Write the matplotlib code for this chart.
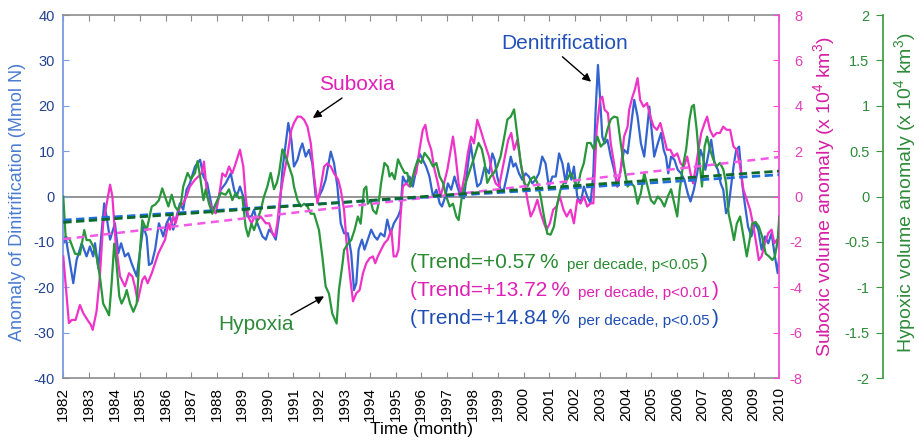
import matplotlib.pyplot as plt
from matplotlib.ticker import FuncFormatter

plt.rcParams['font.family'] = ['Liberation Sans', 'DejaVu Sans']
plt.rcParams['axes.unicode_minus'] = False
plt.rcParams['mathtext.fontset'] = 'custom'
plt.rcParams['mathtext.rm'] = 'Liberation Sans'
plt.rcParams['mathtext.it'] = 'Liberation Sans:italic'

# Denitrification anomaly (Mmol N)
deni_years = [
    1982.00, 1982.09, 1982.39, 1982.52, 1982.72, 1982.91, 1983.04, 1983.17, 1983.24, 1983.37,
    1983.60, 1983.69, 1983.83, 1984.02, 1984.15, 1984.26, 1984.41, 1984.54, 1984.67, 1984.87,
    1985.13, 1985.26, 1985.35, 1985.46, 1985.59, 1985.74, 1985.91, 1986.04, 1986.17, 1986.30,
    1986.56, 1986.69, 1986.82, 1986.95, 1987.15, 1987.35, 1987.48, 1987.63, 1987.83, 1988.00,
    1988.16, 1988.35, 1988.55, 1988.68, 1988.78, 1988.91, 1989.04, 1989.20, 1989.36, 1989.46,
    1989.59, 1989.79, 1989.92, 1990.05, 1990.18, 1990.31, 1990.44, 1990.57, 1990.70, 1990.80,
    1990.92, 1991.02, 1991.16, 1991.26, 1991.35, 1991.48, 1991.61, 1991.74, 1991.87, 1992.00,
    1992.13, 1992.26, 1992.46, 1992.59, 1992.72, 1992.85, 1992.98, 1993.13, 1993.26, 1993.37,
    1993.46, 1993.55, 1993.68, 1993.78, 1993.91, 1994.04, 1994.17, 1994.28, 1994.41, 1994.56,
    1994.67, 1994.80, 1994.93, 1995.09, 1995.19, 1995.28, 1995.41, 1995.54, 1995.67, 1995.80,
    1995.93, 1996.06, 1996.19, 1996.32, 1996.46, 1996.59, 1996.72, 1996.81, 1996.94, 1997.04,
    1997.17, 1997.30, 1997.41, 1997.54, 1997.67, 1997.80, 1997.93, 1998.06, 1998.19, 1998.32,
    1998.48, 1998.65, 1998.78, 1998.87, 1998.97, 1999.10, 1999.23, 1999.37, 1999.50, 1999.60,
    1999.69, 1999.82, 1999.95, 2000.08, 2000.21, 2000.34, 2000.47, 2000.60, 2000.73, 2000.86,
    2000.99, 2001.13, 2001.26, 2001.39, 2001.52, 2001.65, 2001.75, 2001.87, 2001.97, 2002.10,
    2002.23, 2002.36, 2002.49, 2002.62, 2002.73, 2002.82, 2002.91, 2002.99, 2003.08, 2003.17,
    2003.28, 2003.41, 2003.54, 2003.67, 2003.80, 2003.93, 2004.07, 2004.20, 2004.33, 2004.46,
    2004.59, 2004.72, 2004.83, 2004.92, 2005.01, 2005.11, 2005.25, 2005.38, 2005.48, 2005.57,
    2005.66, 2005.77, 2005.90, 2006.03, 2006.16, 2006.29, 2006.42, 2006.53, 2006.66, 2006.79,
    2006.92, 2007.01, 2007.11, 2007.21, 2007.34, 2007.47, 2007.60, 2007.71, 2007.81, 2007.92,
    2008.02, 2008.13, 2008.23, 2008.32, 2008.43, 2008.55, 2008.65, 2008.78, 2008.91, 2009.05,
    2009.18, 2009.31, 2009.44, 2009.57, 2009.70, 2009.83, 2009.94, 2010.00,
]
deni_values = [
    -10.3, -8.8, -19.1, -14.0, -10.3, -13.2, -11.0, -13.2, -10.3, -15.8,
    -1.5, -4.4, -9.5, -5.9, -12.5, -10.3, -13.2, -12.5, -14.7, -17.6,
    -6.6, -8.8, -15.1, -14.7, -11.7, -5.9, -8.8, -5.9, -4.4, -7.3,
    -1.5, -2.9, 1.5, 2.9, 6.6, 8.1, 4.4, 2.9, -2.9, -1.5,
    1.5, 2.9, 5.1, 1.5, 0.0, 2.2, 0.0, -4.4, -4.4, -2.9,
    -5.9, -8.8, -9.5, -7.3, -8.1, -9.5, -4.4, 5.9, 11.7, 16.2,
    12.5, 6.6, 8.1, 10.3, 11.7, 8.8, 10.3, 7.3, 0.0, 0.0,
    1.5, 3.7, 9.9, 7.3, 2.2, -5.9, -8.1, -8.1, -12.5, -20.6,
    -19.1, -11.7, -9.5, -11.7, -9.5, -7.3, -8.8, -9.5, -8.1, -8.8,
    -5.1, -8.1, -5.9, -4.4, -2.9, 4.4, 2.9, 4.4, 2.2, 5.9,
    9.5, 8.1, 6.6, 4.4, 0.0, 1.5, -1.5, -2.2, 0.0, 2.9,
    1.5, 4.4, 2.2, 0.0, -0.4, 5.9, 11.7, 6.6, 2.2, 2.9,
    6.6, 5.1, 9.5, 8.1, 4.4, 1.5, 1.5, 5.1, 8.8, 6.6,
    7.3, 5.1, 3.7, 5.1, 4.4, 2.9, 3.7, 5.1, 8.8, 7.3,
    2.2, 4.4, 4.4, 9.5, 7.3, 2.9, 7.3, 3.7, 6.6, 0.0,
    -1.5, 2.2, 0.0, -1.5, 5.1, 19.1, 29.0, 22.0, 13.2, 11.7,
    12.5, 8.8, 5.9, 2.2, 5.9, 10.3, 9.5, 15.4, 21.3, 17.6,
    11.7, 8.8, 14.7, 19.8, 14.7, 8.8, 11.7, 14.0, 10.3, 8.8,
    5.1, 8.8, 8.1, 5.9, 5.1, 3.7, 0.7, -1.1, 1.5, 5.1,
    10.3, 8.8, 5.9, 8.8, 12.5, 7.3, 5.9, 2.9, 1.5, -3.7,
    -2.2, 2.9, 7.3, 10.3, 11.0, 2.9, -1.5, -6.6, -8.8, -5.9,
    -7.3, -11.7, -8.8, -10.3, -8.1, -13.2, -16.9, -13.2,
]

# Suboxic volume anomaly (x 10^4 km3), magenta curve
sub_years = [
    1982.00, 1982.22, 1982.33, 1982.48, 1982.65, 1982.78, 1982.98, 1983.08, 1983.15, 1983.30,
    1983.43, 1983.56, 1983.83, 1983.92, 1984.05, 1984.22, 1984.41, 1984.57, 1984.70, 1984.80,
    1984.91, 1985.09, 1985.19, 1985.30, 1985.46, 1985.59, 1985.72, 1985.85, 1985.98, 1986.11,
    1986.17, 1986.30, 1986.39, 1986.56, 1986.69, 1986.82, 1986.95, 1987.15, 1987.28, 1987.41,
    1987.50, 1987.63, 1987.83, 1987.96, 1988.09, 1988.22, 1988.35, 1988.48, 1988.61, 1988.74,
    1988.91, 1989.04, 1989.13, 1989.23, 1989.36, 1989.49, 1989.62, 1989.72, 1989.92, 1990.05,
    1990.18, 1990.28, 1990.37, 1990.48, 1990.61, 1990.76, 1990.92, 1991.02, 1991.16, 1991.29,
    1991.42, 1991.55, 1991.68, 1991.81, 1991.94, 1992.07, 1992.20, 1992.33, 1992.46, 1992.59,
    1992.75, 1992.85, 1992.98, 1993.10, 1993.23, 1993.33, 1993.46, 1993.59, 1993.72, 1993.85,
    1993.98, 1994.11, 1994.20, 1994.30, 1994.43, 1994.56, 1994.69, 1994.83, 1994.92, 1995.02,
    1995.11, 1995.19, 1995.28, 1995.41, 1995.54, 1995.67, 1995.80, 1995.93, 1996.06, 1996.16,
    1996.26, 1996.39, 1996.52, 1996.65, 1996.75, 1996.89, 1997.02, 1997.15, 1997.24, 1997.33,
    1997.46, 1997.56, 1997.69, 1997.82, 1997.95, 1998.06, 1998.19, 1998.32, 1998.48, 1998.65,
    1998.78, 1998.91, 1999.04, 1999.17, 1999.30, 1999.40, 1999.52, 1999.63, 1999.76, 1999.89,
    2000.02, 2000.15, 2000.28, 2000.41, 2000.54, 2000.67, 2000.80, 2000.90, 2001.03, 2001.16,
    2001.29, 2001.42, 2001.56, 2001.69, 2001.84, 2001.97, 2002.10, 2002.23, 2002.36, 2002.49,
    2002.62, 2002.73, 2002.86, 2002.99, 2003.08, 2003.17, 2003.30, 2003.41, 2003.54, 2003.67,
    2003.80, 2003.93, 2004.07, 2004.13, 2004.26, 2004.35, 2004.46, 2004.56, 2004.69, 2004.83,
    2004.96, 2005.09, 2005.22, 2005.35, 2005.48, 2005.61, 2005.74, 2005.87, 2006.01, 2006.14,
    2006.27, 2006.40, 2006.53, 2006.63, 2006.74, 2006.84, 2006.95, 2007.08, 2007.18, 2007.29,
    2007.42, 2007.55, 2007.68, 2007.81, 2007.94, 2008.08, 2008.21, 2008.34, 2008.47, 2008.60,
    2008.73, 2008.86, 2008.99, 2009.12, 2009.20, 2009.31, 2009.44, 2009.57, 2009.70, 2009.81,
    2009.91, 2010.00,
]
sub_values = [
    -2.64, -5.58, -5.44, -5.44, -4.78, -5.14, -5.50, -5.66, -5.88, -5.06,
    -3.52, -1.18, 0.52, 0.00, -2.06, -3.52, -3.96, -3.38, -3.52, -3.96,
    -4.62, -3.68, -3.52, -3.82, -3.38, -2.94, -2.50, -2.20, -1.90, -1.18,
    -1.46, -0.88, -1.18, -0.44, -0.30, 0.00, 0.44, 0.74, 0.88, 1.02,
    1.54, 0.00, -0.58, -0.74, 0.00, 1.02, 0.88, 1.32, 1.02, 1.46,
    2.06, 1.32, 0.00, -0.88, -1.18, -0.88, -1.02, -0.88, -1.18, -1.18,
    -1.62, -1.76, -1.18, 0.00, 0.88, 1.76, 2.94, 3.24, 3.52, 3.52,
    3.38, 3.08, 2.34, 0.88, -0.30, 0.44, 1.32, 1.46, 1.32, 1.02,
    0.74, 0.30, -0.58, -2.34, -3.68, -4.62, -4.26, -4.12, -3.38, -2.94,
    -2.72, -2.64, -2.94, -2.64, -2.34, -2.06, -1.90, -1.46, -2.64, -2.64,
    -2.34, -0.88, 0.44, 0.58, 0.44, 0.88, 1.02, 2.06, 2.94, 3.16,
    2.50, 2.06, 1.18, 0.58, 0.00, 0.58, 1.18, 2.06, 2.64, 1.90,
    0.58, 0.14, 0.88, 1.90, 2.64, 2.34, 3.38, 2.94, 2.34, 1.76,
    1.02, 0.58, 0.44, 1.18, 1.90, 2.50, 2.80, 2.06, 2.50, 1.46,
    0.74, -0.14, -0.88, -0.58, -0.14, -0.74, -1.18, -1.46, -1.18, -0.58,
    -0.44, 0.00, -0.58, -0.88, -0.58, -1.18, -0.14, -0.30, 0.00, -0.44,
    -0.30, -0.30, 2.94, 4.26, 4.40, 3.82, 3.68, 2.34, 1.46, 0.44,
    1.18, 2.64, 3.08, 3.82, 4.40, 4.70, 5.22, 4.26, 3.96, 4.12,
    3.52, 3.08, 2.94, 3.24, 2.64, 2.06, 2.06, 1.76, 1.90, 1.46,
    1.32, 1.76, 1.02, 0.58, 1.32, 2.06, 2.80, 3.24, 3.52, 2.94,
    2.64, 2.80, 2.80, 3.08, 2.94, 2.94, 2.20, 2.06, 1.32, 0.30,
    -0.14, -0.58, -1.32, -2.20, -2.80, -2.64, -2.06, -1.62, -1.46, -2.06,
    -1.90, -2.34,
]

# Hypoxic volume anomaly (x 10^4 km3), green curve
hyp_years = [
    1982.00, 1982.09, 1982.26, 1982.46, 1982.65, 1982.82, 1982.91, 1983.04, 1983.17, 1983.30,
    1983.43, 1983.56, 1983.69, 1983.79, 1983.89, 1983.99, 1984.08, 1984.19, 1984.28, 1984.41,
    1984.48, 1984.61, 1984.74, 1984.87, 1985.00, 1985.09, 1985.26, 1985.46, 1985.59, 1985.74,
    1985.87, 1985.98, 1986.11, 1986.24, 1986.37, 1986.47, 1986.60, 1986.69, 1986.86, 1986.99,
    1987.15, 1987.25, 1987.35, 1987.48, 1987.57, 1987.70, 1987.83, 1987.96, 1988.16, 1988.35,
    1988.48, 1988.61, 1988.74, 1988.87, 1989.00, 1989.13, 1989.23, 1989.36, 1989.46, 1989.59,
    1989.72, 1989.85, 1989.98, 1990.11, 1990.24, 1990.35, 1990.44, 1990.57, 1990.70, 1990.83,
    1990.96, 1991.02, 1991.16, 1991.29, 1991.42, 1991.55, 1991.68, 1991.81, 1992.00, 1992.13,
    1992.26, 1992.39, 1992.52, 1992.69, 1992.78, 1992.92, 1992.98, 1993.13, 1993.26, 1993.39,
    1993.52, 1993.63, 1993.76, 1993.85, 1993.91, 1994.02, 1994.11, 1994.24, 1994.33, 1994.43,
    1994.56, 1994.69, 1994.76, 1994.85, 1994.96, 1995.09, 1995.22, 1995.35, 1995.45, 1995.58,
    1995.74, 1995.87, 1996.00, 1996.13, 1996.32, 1996.46, 1996.59, 1996.72, 1996.85, 1996.98,
    1997.11, 1997.24, 1997.37, 1997.46, 1997.59, 1997.69, 1997.82, 1997.95, 1998.08, 1998.24,
    1998.37, 1998.48, 1998.58, 1998.71, 1998.84, 1998.97, 1999.10, 1999.23, 1999.37, 1999.50,
    1999.63, 1999.76, 1999.89, 2000.02, 2000.15, 2000.28, 2000.41, 2000.54, 2000.67, 2000.80,
    2000.93, 2001.06, 2001.19, 2001.32, 2001.45, 2001.58, 2001.71, 2001.84, 2001.97, 2002.10,
    2002.23, 2002.36, 2002.49, 2002.62, 2002.75, 2002.89, 2003.02, 2003.15, 2003.28, 2003.41,
    2003.54, 2003.67, 2003.80, 2003.93, 2004.07, 2004.20, 2004.33, 2004.46, 2004.59, 2004.72,
    2004.85, 2004.98, 2005.11, 2005.25, 2005.38, 2005.51, 2005.64, 2005.77, 2005.90, 2006.01,
    2006.11, 2006.23, 2006.36, 2006.49, 2006.58, 2006.66, 2006.77, 2006.87, 2006.98, 2007.08,
    2007.18, 2007.29, 2007.42, 2007.55, 2007.68, 2007.81, 2007.92, 2008.02, 2008.13, 2008.23,
    2008.34, 2008.47, 2008.60, 2008.73, 2008.84, 2008.94, 2009.07, 2009.20, 2009.33, 2009.47,
    2009.60, 2009.73, 2009.83, 2009.94, 2010.00,
]
hyp_values = [
    0.00, -0.44, -0.48, -0.63, -0.64, -0.37, -0.48, -0.48, -0.55, -0.66,
    -0.88, -1.18, -1.25, -1.31, -0.96, -0.52, -0.74, -1.10, -1.18, -1.10,
    -1.03, -1.18, -1.27, -1.18, -0.59, -0.26, -0.37, -0.11, -0.09, -0.04,
    0.09, 0.00, -0.11, 0.02, -0.11, -0.15, -0.08, 0.11, 0.26, 0.19,
    0.26, 0.39, 0.22, -0.04, 0.08, -0.08, -0.19, -0.08, 0.04, 0.02,
    0.08, -0.04, 0.04, -0.02, 0.00, -0.33, -0.44, -0.30, -0.37, -0.26,
    -0.15, 0.00, 0.11, 0.26, 0.08, 0.15, 0.26, 0.52, 0.44, 0.33,
    0.22, 0.11, -0.04, -0.11, -0.08, -0.11, -0.19, -0.19, -0.37, -0.66,
    -0.99, -1.07, -1.29, -1.40, -1.03, -0.74, -0.59, -0.52, -0.48, -0.37,
    -0.22, -0.30, 0.08, 0.11, -0.08, -0.04, -0.15, -0.19, -0.08, 0.15,
    0.37, 0.33, 0.22, 0.26, 0.19, 0.41, 0.33, 0.26, 0.26, 0.11,
    0.30, 0.41, 0.37, 0.48, 0.41, 0.33, 0.37, 0.22, 0.15, 0.00,
    -0.11, -0.08, -0.22, -0.26, 0.00, 0.11, 0.22, 0.33, 0.44, 0.59,
    0.52, 0.37, 0.15, 0.22, 0.26, 0.33, 0.44, 0.63, 0.85, 0.88,
    0.96, 0.66, 0.37, 0.15, 0.11, 0.19, 0.22, 0.15, 0.00, -0.22,
    -0.41, -0.42, -0.33, -0.08, 0.08, 0.15, 0.19, 0.26, 0.19, 0.08,
    0.26, 0.37, 0.59, 0.59, 0.52, 0.66, 0.55, 0.59, 0.74, 0.85,
    0.88, 0.87, 0.59, 0.33, 0.11, 0.15, 0.11, -0.08, 0.04, 0.26,
    0.11, -0.04, -0.08, 0.00, -0.04, -0.11, 0.00, 0.08, -0.08, -0.22,
    0.08, 0.33, 0.52, 0.85, 0.99, 1.01, 0.74, 0.41, 0.11, 0.55,
    0.66, 0.52, 0.41, 0.33, 0.37, 0.30, 0.15, -0.19, -0.33, -0.48,
    -0.30, -0.22, -0.44, -0.66, -0.48, -0.30, -0.28, -0.33, -0.44, -0.63,
    -0.66, -0.70, -0.66, -0.48, -0.22,
]

# linear trends (end points of the dashed lines)
trend_years = [1982, 2010]
deni_trend = [-5.2, 4.8]
sub_trend = [-1.88, 1.74]
hyp_trend = [-0.285, 0.28]

year_ticks = list(range(1982, 2011))
deni_ticks = list(range(-40, 41, 10))
sub_ticks = list(range(-8, 9, 2))
hyp_ticks = [-2, -1.5, -1, -0.5, 0, 0.5, 1, 1.5, 2]

trend_text = [
    ('(Trend=+0.57\u2009%', 'per decade, p<0.05', '#2a8a32'),
    ('(Trend=+13.72\u2009%', 'per decade, p<0.01', '#e020b4'),
    ('(Trend=+14.84\u2009%', 'per decade, p<0.05', '#1f4db4'),
]

BLUE = '#3363cf'
MAGENTA = '#ef33c9'
GREEN = '#28963a'
GRAY = '#8c8c8c'

fig, ax = plt.subplots(figsize=(9.2, 4.43), dpi=100)
fig.subplots_adjust(left=0.0688, right=0.847, bottom=0.1467, top=0.9661)
ax2 = ax.twinx()
ax3 = ax.twinx()

# Series
ax.axhline(0, color=GRAY, lw=1.3, zorder=1)
ax.plot(deni_years, deni_values, color=BLUE, lw=1.6, zorder=2)
ax2.plot(sub_years, sub_values, color=MAGENTA, lw=1.6)
ax3.plot(hyp_years, hyp_values, color=GREEN, lw=1.6)

# Trend lines, drawn in the top axes so they sit above all curves
ax3.plot(trend_years, sub_trend, transform=ax2.transData, color='#f25ae6',
         lw=1.8, dashes=(3.2, 2.2))
ax3.plot(trend_years, deni_trend, transform=ax.transData, color='#1f6fd6',
         lw=2.0, dashes=(3.0, 1.6))
ax3.plot(trend_years, hyp_trend, color='#0d6a2a', lw=2.0, dashes=(3.0, 1.6))

# Left axis (denitrification)
ax.set_xlim(trend_years[0], trend_years[-1])
ax.set_ylim(-40, 40)
ax.set_xticks(year_ticks)
ax.set_xticklabels([str(y) for y in year_ticks])
ax.set_yticks(deni_ticks)
ax.tick_params(axis='x', direction='in', top=True, length=4, color=GRAY,
               labelsize=11, labelrotation=90, pad=6.5)
ax.tick_params(axis='y', direction='in', length=4, color='#7b9ce0',
               labelcolor='#22418f', labelsize=10.5, pad=6)
ax.spines['left'].set_color('#7b9ce0')
ax.spines['left'].set_linewidth(1.3)
ax.spines['right'].set_visible(False)
for side in ['top', 'bottom']:
    ax.spines[side].set_color(GRAY)
    ax.spines[side].set_linewidth(1.2)
ax.set_ylabel('Anomaly of Dinitrification (Mmol N)', color='#4a7bd0', fontsize=13)
ax.yaxis.set_label_coords(-0.052, 0.485)
ax.set_xlabel('Time (month)', fontsize=12.5)
ax.xaxis.set_label_coords(0.5, -0.120)

# Magenta axis (suboxia)
ax2.set_ylim(-8, 8)
ax2.set_yticks(sub_ticks)
ax2.tick_params(axis='y', direction='in', length=4, color='#f050d4',
                labelcolor='#e040b8', labelsize=10.5, pad=17)
plt.setp(ax2.get_yticklabels(), ha='right')
for side in ['left', 'top', 'bottom']:
    ax2.spines[side].set_visible(False)
ax2.spines['right'].set_color('#f050d4')
ax2.spines['right'].set_linewidth(1.3)
ax2.set_ylabel('Suboxic volume anomaly (x 10$^4$ km$^3$)', color='#d61fa5', fontsize=14)
ax2.yaxis.set_label_coords(1.045, 0.5)

# Green axis (hypoxia), offset to the right
ax3.set_ylim(-2, 2)
ax3.set_yticks(hyp_ticks)
ax3.yaxis.set_major_formatter(FuncFormatter(lambda v, pos: '%g' % v))
for side in ['right', 'top', 'bottom']:
    ax3.spines[side].set_visible(False)
ax3.spines['left'].set_visible(True)
ax3.spines['left'].set_position(('axes', 1.1455))
ax3.spines['left'].set_color('#3c963c')
ax3.spines['left'].set_linewidth(1.2)
ax3.yaxis.set_ticks_position('left')
ax3.tick_params(axis='y', direction='out', length=5, color='#3c963c',
                labelcolor='#2e8b3a', labelsize=10.5, pad=5)
ax3.yaxis.set_label_position('right')
ax3.set_ylabel('Hypoxic volume anomaly (x 10$^4$ km$^3$)', color='#2e8b3a', fontsize=14)
ax3.yaxis.set_label_coords(1.157, 0.512)

# Annotations
arrow = dict(arrowstyle='-|>', color='black', lw=1.0, mutation_scale=12,
             shrinkA=0, shrinkB=0)
ax.annotate('', xy=(1991.76, 17.3), xytext=(1992.9, 21.7), arrowprops=arrow)
ax.annotate('', xy=(1992.2, -22.0), xytext=(1990.9, -26.1), arrowprops=arrow)
ax.annotate('', xy=(2002.64, 25.3), xytext=(2001.52, 30.8), arrowprops=arrow)
ax.text(1993.47, 24.6, 'Suboxia', color='#e020b8', fontsize=15, ha='center', va='center')
ax.text(1989.53, -28.3, 'Hypoxia', color='#2e8b3a', fontsize=15, ha='center', va='center')
ax.text(2001.62, 33.7, 'Denitrification', color='#2050b8', fontsize=15,
        ha='center', va='center')

# Trend statements
for i, (big, small, col) in enumerate(trend_text):
    t1 = ax.text(0.4842, 0.303 - i * 0.077, big, transform=ax.transAxes,
                 fontsize=15, color=col, va='baseline', ha='left')
    t2 = ax.annotate(small, xy=(1, 0), xycoords=t1, xytext=(6, 0),
                     textcoords='offset points', fontsize=11, color=col,
                     va='bottom', ha='left')
    ax.annotate(')', xy=(1, 0), xycoords=t2, xytext=(1.5, 0),
                textcoords='offset points', fontsize=15, color=col,
                va='bottom', ha='left')

fig.savefig('out.png', dpi=100)
